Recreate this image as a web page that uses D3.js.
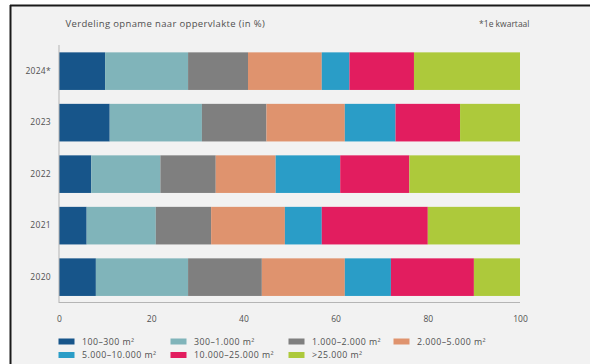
<!DOCTYPE html>
<html>
<head>
<meta charset="utf-8">
<script src="https://cdn.jsdelivr.net/npm/d3@7"></script>
<style>
  html, body { margin: 0; padding: 0; background: #ffffff; }
  svg { display: block; }
</style>
</head>
<body>
<svg id="chart" width="590" height="364"></svg>
<script>
// ---- data ----
const years = ["2024*", "2023", "2022", "2021", "2020"];
const seriesNames = ["100–300 m²", "300–1.000 m²", "1.000–2.000 m²", "2.000–5.000 m²",
                     "5.000–10.000 m²", "10.000–25.000 m²", ">25.000 m²"];
const s100_300      = [10, 11,  7,  6,  8];
const s300_1000     = [18, 20, 15, 15, 20];
const s1000_2000    = [13, 14, 12, 12, 16];
const s2000_5000    = [16, 17, 13, 16, 18];
const s5000_10000   = [ 6, 11, 14,  8, 10];
const s10000_25000  = [14, 14, 15, 23, 18];
const s25000plus    = [23, 13, 24, 20, 10];
const xTicks = [0, 20, 40, 60, 80, 100];
const titleText = "Verdeling opname naar oppervlakte (in %)";
const noteText = "*1e kwartaal";
const colors = ["#17558a", "#80b4ba", "#7f7f7f", "#df936e", "#2a9dc7", "#e21d5f", "#adc93b"];

const seriesValues = [s100_300, s300_1000, s1000_2000, s2000_5000, s5000_10000, s10000_25000, s25000plus];
const table = years.map((y, i) => {
  const row = { year: y };
  seriesNames.forEach((n, k) => row[n] = seriesValues[k][i]);
  return row;
});

const svg = d3.select("#chart");
const font = "'Open Sans', Lato, sans-serif";
const textColor = "#505050";

// panel + frame
svg.append("rect").attr("x", 11).attr("y", 6).attr("width", 579).attr("height", 358).attr("fill", "#f2f2f2");
svg.append("line").attr("x1", 10).attr("x2", 590).attr("y1", 5.5).attr("y2", 5.5).attr("stroke", "#1a1a1a").attr("stroke-width", 2);
svg.append("line").attr("x1", 10.5).attr("x2", 10.5).attr("y1", 5).attr("y2", 364).attr("stroke", "#1a1a1a").attr("stroke-width", 2);

const x = d3.scaleLinear().domain([0, 100]).range([59, 520]);
const y = d3.scaleBand().domain(years).range([45.4, 302.9]).paddingInner(0.27).paddingOuter(0.135);

const stack = d3.stack().keys(seriesNames);
const stacked = stack(table);

svg.append("g").selectAll("g").data(stacked).join("g")
  .attr("fill", (d, i) => colors[i])
  .selectAll("rect").data(d => d).join("rect")
  .attr("x", d => x(d[0]))
  .attr("y", d => y(d.data.year))
  .attr("width", d => x(d[1]) - x(d[0]))
  .attr("height", y.bandwidth());

// axis lines
svg.append("line").attr("x1", 59).attr("x2", 59).attr("y1", 45).attr("y2", 303)
  .attr("stroke", "#b5b5b5").attr("stroke-width", 1);
svg.append("line").attr("x1", 59).attr("x2", 520).attr("y1", 302.5).attr("y2", 302.5)
  .attr("stroke", "#b5b5b5").attr("stroke-width", 1);

// x axis labels
const xAxis = d3.axisBottom(x).tickValues(xTicks).tickSize(0).tickPadding(0).tickFormat(d3.format("d"));
const gx = svg.append("g").attr("transform", "translate(0,316)").call(xAxis);
gx.select(".domain").remove();
gx.selectAll("text").attr("font-family", font).attr("font-size", 8.5).attr("fill", textColor).attr("dy", "0.71em");

// y axis labels
const yAxis = d3.axisLeft(y).tickSize(0).tickPadding(0);
const gy = svg.append("g").attr("transform", "translate(51,0)").call(yAxis);
gy.select(".domain").remove();
gy.selectAll("text").attr("font-family", font).attr("font-size", 8.5).attr("letter-spacing", 0.3).attr("fill", textColor);

// title and note
svg.append("text").attr("x", 65.5).attr("y", 27).text(titleText)
  .attr("font-family", font).attr("font-size", 9.5).attr("letter-spacing", 0.35).attr("fill", textColor);
svg.append("text").attr("x", 529.5).attr("y", 27).attr("text-anchor", "end").text(noteText)
  .attr("font-family", font).attr("font-size", 8.5).attr("fill", textColor);

// legend
const legendCols = [58.5, 170.5, 288.5, 393.5];
const legendRows = [341.5, 355];
const lg = svg.append("g").selectAll("g").data(seriesNames).join("g")
  .attr("transform", (d, i) => `translate(${legendCols[i % 4]},${legendRows[Math.floor(i / 4)]})`);
lg.append("rect").attr("x", 0).attr("y", -3).attr("width", 16).attr("height", 6).attr("fill", (d, i) => colors[i]);
lg.append("text").attr("x", 23.5).attr("y", 0).attr("dy", "0.35em").text(d => d)
  .attr("font-family", font).attr("font-size", 8.8).attr("letter-spacing", 0.45).attr("fill", textColor);
</script>
</body>
</html>
